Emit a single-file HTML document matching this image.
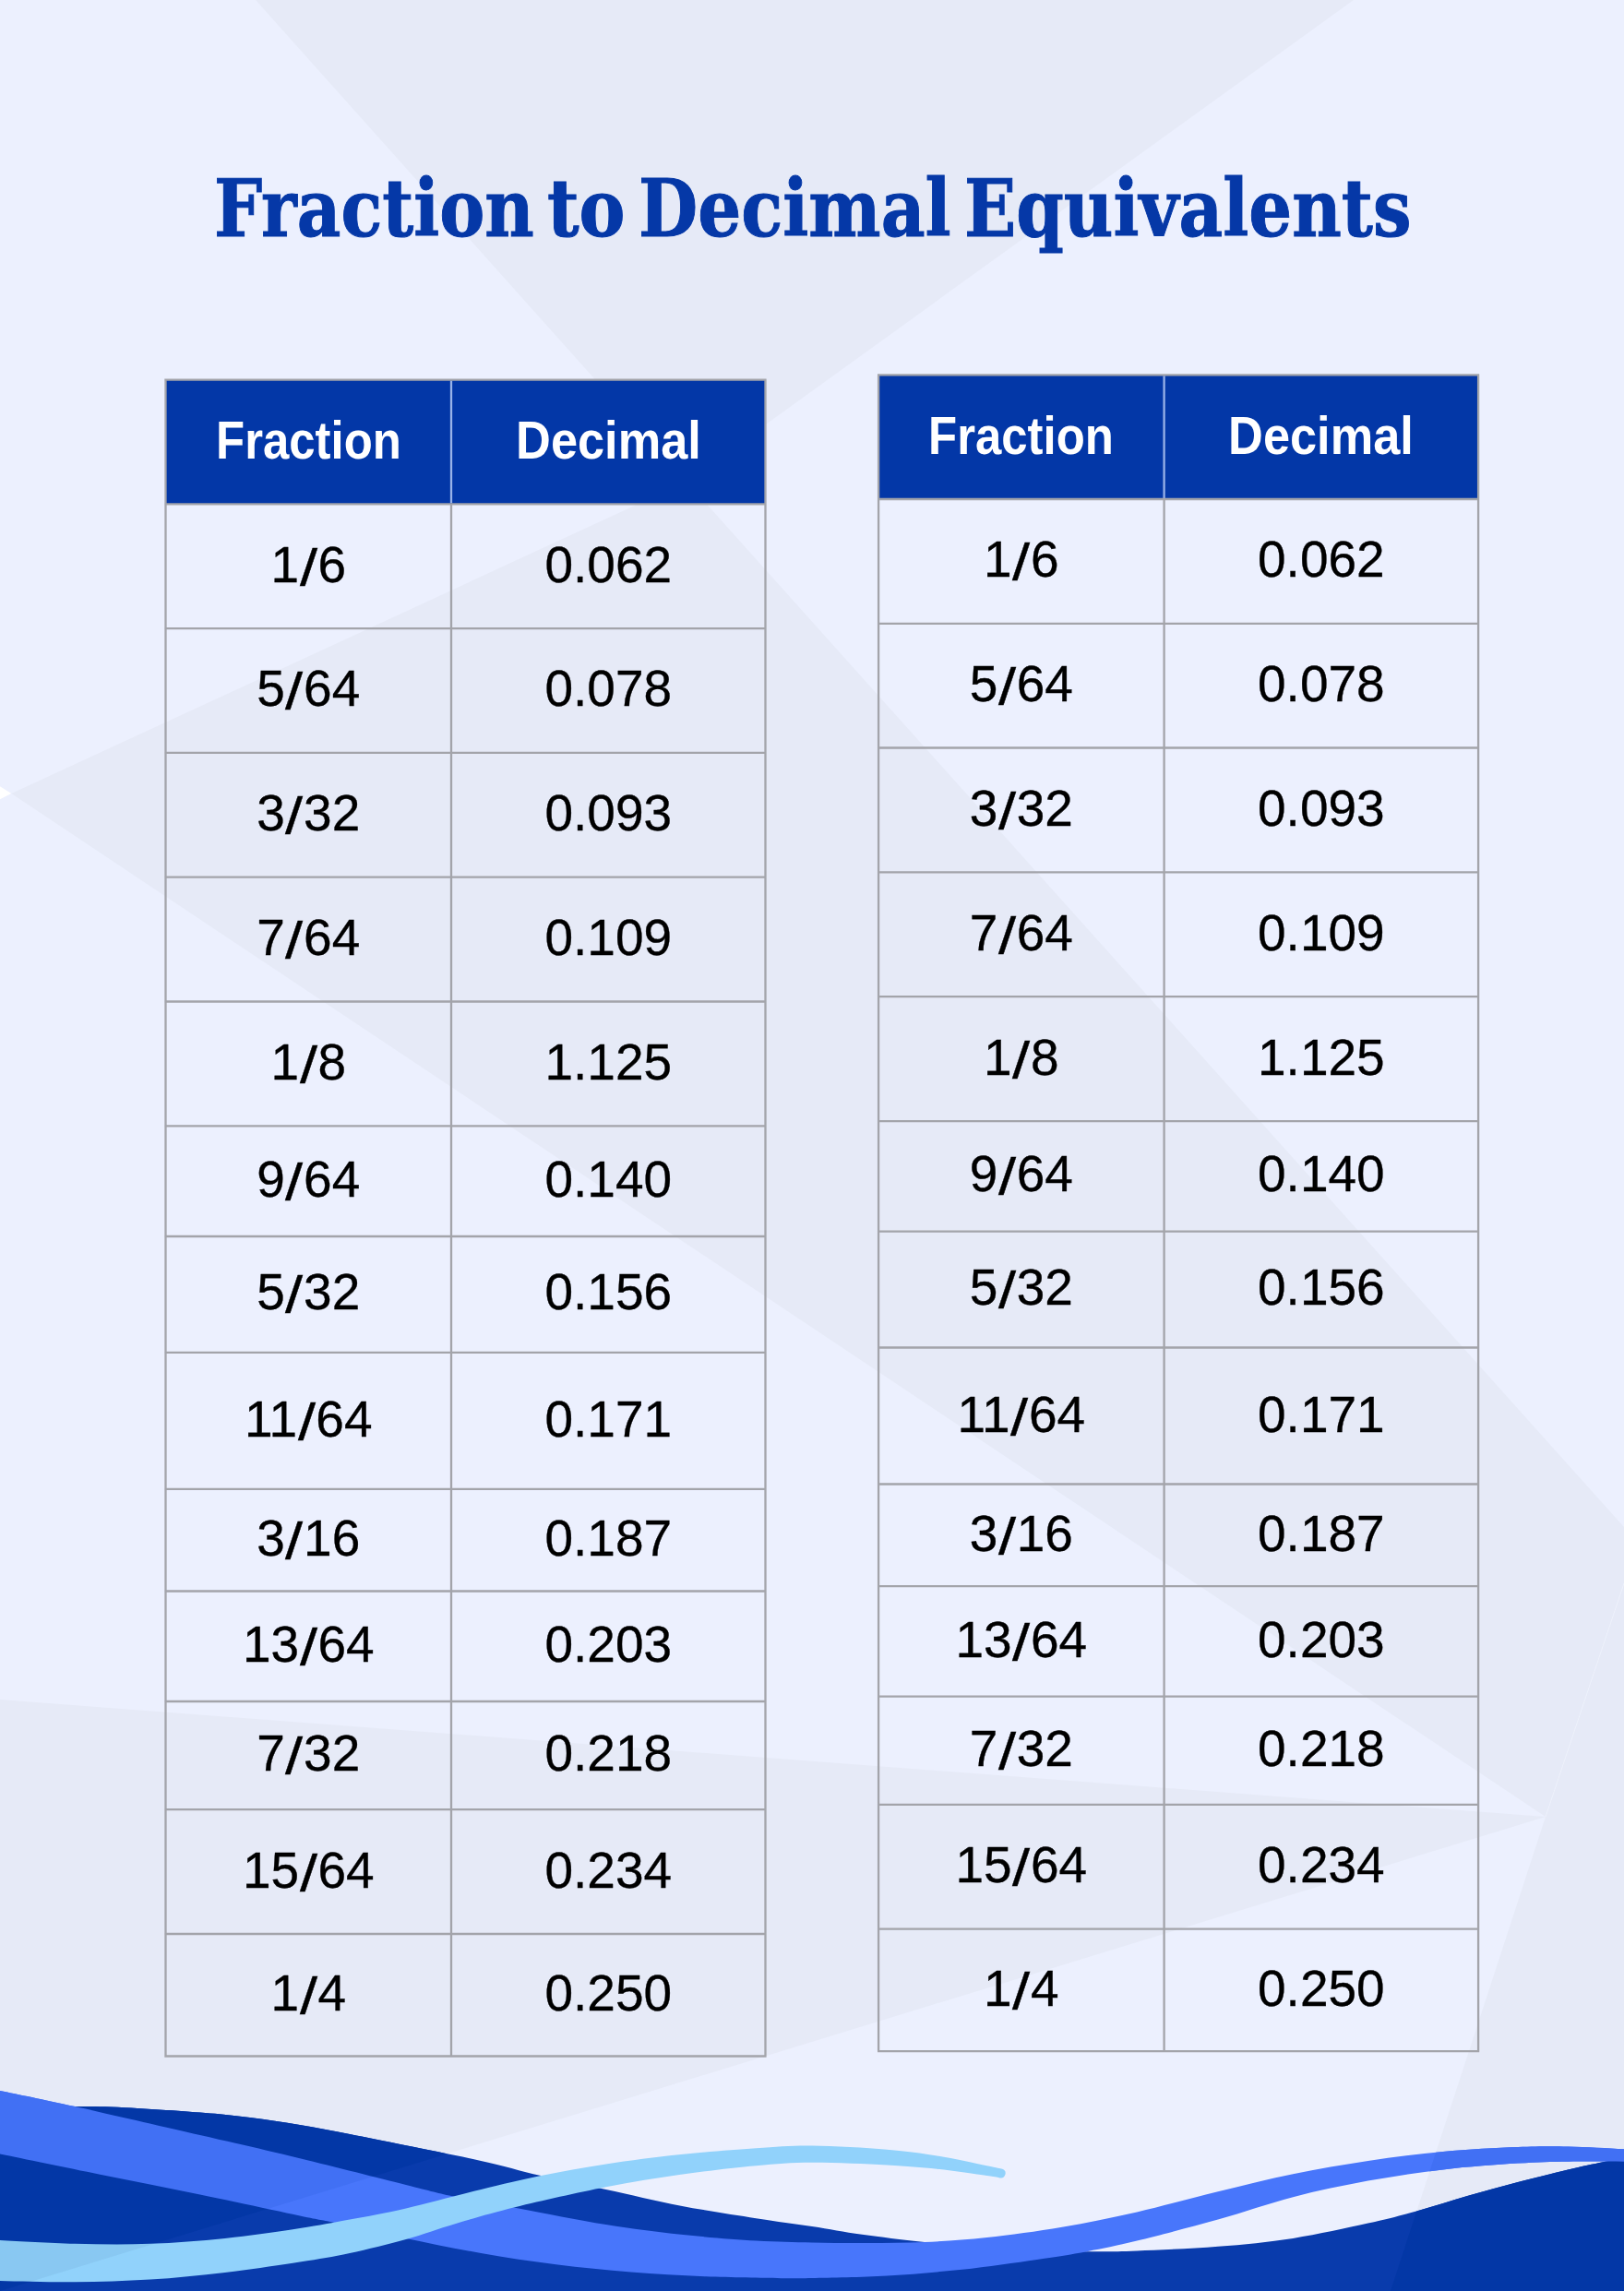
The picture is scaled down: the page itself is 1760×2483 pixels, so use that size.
<!DOCTYPE html>
<html lang="en"><head><meta charset="utf-8"><title>Fraction to Decimal Equivalents</title>
<style>
html,body{margin:0;padding:0;}
body{width:1760px;height:2483px;overflow:hidden;background:#ecf0fe;}
#page{position:relative;width:1760px;height:2483px;overflow:hidden;background:#ecf0fe;}
#bg{position:absolute;left:0;top:0;}
#title{position:absolute;left:0;top:177px;width:1760px;height:100px;margin:0;font-family:"DejaVu Serif","Liberation Serif",serif;font-weight:bold;font-size:83px;line-height:100px;color:#0538a7;white-space:nowrap;-webkit-text-stroke:1px #0538a7;}
#title span{position:absolute;top:0;display:block;transform-origin:0 78.5px;}
.tbl{position:absolute;}
.c{position:absolute;text-align:center;white-space:nowrap;box-sizing:border-box;}
.h{font-family:"Liberation Sans",sans-serif;font-weight:bold;font-size:55px;color:#fff;}
.b{font-family:"Liberation Sans",sans-serif;font-size:55px;color:#000;transform:scaleY(1.025);-webkit-text-stroke:0.35px #000;}
.b i{font-style:normal;display:inline-block;margin:0 2.5px;transform:translateY(2.5px) scaleX(1.25);}
.h span{display:inline-block;transform-origin:50% 50%;}

</style></head><body>
<div id="page">
<svg id="bg" width="1760" height="2483" viewBox="0 0 1760 2483">
<defs>
<clipPath id="cd"><polygon points="0,1842 1675,1969 0,2483"/><polygon points="1675,1969 1507,2483 1760,2483 1760,1716"/></clipPath>
<path id="w1" d="M-40.0,2286.0C-33.3,2285.7 -20.2,2284.5 0.0,2284.0C20.2,2283.5 58.7,2283.0 81.3,2283.0C103.9,2283.0 112.9,2283.1 135.5,2284.2C158.1,2285.3 194.1,2287.8 216.7,2289.6C239.3,2291.4 252.9,2292.8 271.0,2295.0C289.1,2297.2 307.0,2300.0 325.0,2303.0C343.0,2306.0 359.8,2309.3 379.0,2313.0C398.2,2316.7 416.3,2320.5 440.0,2325.3C463.7,2330.1 496.9,2336.5 521.3,2341.9C545.7,2347.3 563.7,2352.8 586.3,2358.0C608.9,2363.2 631.4,2367.6 656.7,2373.0C682.0,2378.4 710.9,2385.5 738.0,2390.7C765.1,2395.9 795.6,2400.5 819.3,2404.2C843.0,2407.9 860.9,2410.1 880.0,2413.0C899.1,2415.9 913.9,2419.0 934.2,2421.8C954.5,2424.6 976.0,2427.3 1002.0,2430.0C1028.0,2432.7 1060.7,2436.3 1090.0,2438.0C1119.3,2439.7 1154.3,2440.0 1178.0,2440.2C1201.7,2440.4 1208.5,2440.3 1232.2,2439.4C1255.9,2438.5 1291.8,2437.1 1320.0,2434.8C1348.2,2432.6 1374.2,2430.1 1401.3,2425.9C1428.4,2421.7 1460.0,2414.6 1482.6,2409.6C1505.2,2404.6 1518.7,2401.0 1536.8,2396.0C1554.9,2391.0 1573.0,2385.0 1591.0,2379.8C1609.0,2374.6 1627.0,2369.7 1645.0,2365.0C1663.0,2360.3 1683.9,2355.0 1699.3,2351.4C1714.7,2347.8 1727.1,2345.3 1737.2,2343.2C1747.3,2341.1 1749.5,2340.7 1760.0,2339.0C1770.5,2337.3 1793.3,2334.0 1800.0,2333.0V2500H-40.0Z"/>
<path id="w2" d="M-40.0,2258.0C-33.3,2259.3 -20.2,2261.8 0.0,2266.0C20.2,2270.2 45.2,2275.1 81.3,2283.1C117.4,2291.1 176.1,2304.7 216.7,2314.0C257.3,2323.3 287.8,2330.2 325.0,2339.2C362.2,2348.2 411.8,2360.9 440.0,2367.9C468.2,2374.9 473.7,2376.8 494.0,2381.0C514.3,2385.2 534.9,2388.4 562.0,2393.4C589.1,2398.4 627.4,2406.3 656.7,2411.0C686.0,2415.7 710.9,2418.9 738.0,2421.8C765.1,2424.7 795.6,2427.2 819.3,2428.6C843.0,2430.0 859.9,2430.1 880.0,2430.5C900.1,2430.9 919.7,2431.1 940.0,2431.0C960.3,2430.9 980.4,2431.0 1002.0,2430.0C1023.6,2429.0 1044.8,2427.7 1069.6,2425.0C1094.4,2422.3 1123.9,2418.3 1151.0,2413.7C1178.1,2409.1 1204.0,2403.8 1232.2,2397.4C1260.4,2391.0 1291.8,2382.1 1320.0,2375.2C1348.2,2368.3 1374.2,2361.8 1401.3,2356.2C1428.4,2350.6 1455.5,2345.9 1482.6,2341.9C1509.7,2337.9 1536.7,2334.4 1563.8,2331.9C1590.9,2329.4 1622.4,2327.9 1645.0,2327.0C1667.6,2326.1 1680.1,2326.0 1699.3,2326.4C1718.5,2326.8 1743.2,2328.3 1760.0,2329.2C1776.8,2330.1 1793.3,2331.5 1800.0,2332.0L1800.0,2343.5C1793.3,2343.4 1776.8,2342.8 1760.0,2342.7C1743.2,2342.6 1718.5,2342.4 1699.3,2342.7C1680.1,2343.0 1667.6,2343.1 1645.0,2344.6C1622.4,2346.1 1590.9,2348.2 1563.8,2351.4C1536.7,2354.6 1509.7,2358.6 1482.6,2363.6C1455.5,2368.6 1428.4,2374.2 1401.3,2381.2C1374.2,2388.2 1348.2,2397.7 1320.0,2405.6C1291.8,2413.5 1255.9,2422.8 1232.2,2428.6C1208.5,2434.4 1196.1,2436.8 1178.0,2440.2C1159.9,2443.6 1146.4,2445.7 1123.8,2448.9C1101.2,2452.2 1069.7,2456.8 1042.6,2459.7C1015.5,2462.6 988.4,2464.9 961.3,2466.5C934.2,2468.1 899.1,2468.6 880.0,2469.0C860.9,2469.4 865.6,2469.5 846.4,2469.2C827.2,2468.9 792.1,2468.4 765.0,2467.3C737.9,2466.2 710.9,2464.7 683.8,2462.5C656.7,2460.3 629.7,2457.7 602.6,2454.3C575.5,2450.9 548.4,2446.7 521.3,2442.0C494.2,2437.3 465.9,2431.3 440.0,2425.9C414.1,2420.5 384.9,2413.7 365.7,2409.6C346.5,2405.5 349.8,2406.7 325.0,2401.5C300.2,2396.3 252.8,2385.9 216.7,2378.5C180.6,2371.1 144.5,2364.1 108.4,2356.8C72.3,2349.5 24.7,2339.7 0.0,2334.6C-24.7,2329.5 -33.3,2327.8 -40.0,2326.5Z"/>
<path id="w3" d="M-40.0,2425.0C-33.3,2425.5 -20.2,2426.9 0.0,2428.0C20.2,2429.1 53.9,2431.2 81.0,2431.8C108.1,2432.4 135.5,2432.8 162.6,2431.8C189.7,2430.8 216.7,2428.7 243.8,2425.9C270.9,2423.1 302.5,2418.4 325.0,2415.0C347.5,2411.6 359.8,2409.2 379.0,2405.6C398.2,2402.0 416.3,2398.8 440.0,2393.4C463.7,2388.0 496.9,2378.9 521.3,2373.0C545.7,2367.1 563.7,2362.6 586.3,2358.0C608.9,2353.4 631.4,2349.2 656.7,2345.4C682.0,2341.6 710.9,2337.8 738.0,2335.0C765.1,2332.2 795.6,2329.9 819.3,2328.3C843.0,2326.7 856.3,2325.4 880.0,2325.6C903.7,2325.8 938.7,2327.9 961.3,2329.7C983.9,2331.5 997.5,2333.6 1015.5,2336.5C1033.5,2339.4 1057.8,2344.9 1069.6,2347.3C1081.4,2349.7 1083.5,2350.2 1086.3,2350.8A5,5 0 0 1 1083.6,2360.4C1081.3,2360.0 1080.9,2359.7 1069.6,2358.1C1058.2,2356.5 1033.5,2352.7 1015.5,2350.8C997.5,2348.9 983.9,2347.7 961.3,2346.5C938.7,2345.3 903.7,2343.7 880.0,2343.8C856.3,2343.9 843.0,2345.1 819.3,2347.3C795.6,2349.5 765.1,2353.0 738.0,2356.8C710.9,2360.6 686.5,2364.4 656.7,2370.3C626.9,2376.2 586.1,2385.4 559.0,2392.0C531.9,2398.6 513.8,2404.2 494.0,2410.0C474.2,2415.8 459.2,2421.7 440.0,2427.0C420.8,2432.3 398.2,2437.9 379.0,2442.0C359.8,2446.1 347.5,2448.1 325.0,2451.6C302.5,2455.1 270.9,2459.8 243.8,2463.0C216.7,2466.2 189.7,2468.9 162.6,2470.6C135.5,2472.3 108.1,2473.1 81.0,2473.3C53.9,2473.5 20.2,2472.6 0.0,2472.0C-20.2,2471.4 -33.3,2470.3 -40.0,2470.0Z"/>
</defs>
<g fill="#e6eaf7">
<polygon points="277,0 1467,0 744,522"/>
<polygon points="744,522 12.3,860.1 1675,1969 1760,1716 1760,1655"/>
<polygon points="0,1842 1675,1969 0,2483"/>
<polygon points="1675,1969 1507,2483 1760,2483 1760,1716"/>
</g>
<line x1="1675" y1="1969" x2="1760" y2="1716" stroke="#f2f5fe" stroke-width="1" stroke-opacity="0.6"/>
<polygon points="0,852.3 12.3,860.1 0,866.3" fill="#ffffff"/>
<use href="#w1" fill="#093bac"/>
<use href="#w2" fill="#4876fb"/>
<use href="#w3" fill="#91d2fb"/>
<g clip-path="url(#cd)" opacity="0.999">
<use href="#w1" fill="#0337a6"/>
<use href="#w2" fill="#4170f4"/>
<use href="#w3" fill="#89c8f2"/>
</g>
<rect x="179.5" y="411.6" width="650" height="134.7" fill="#0337a7"/>
<line x1="489" y1="412.6" x2="489" y2="545.3" stroke="#98b2e8" stroke-width="2.3"/>
<path d="M178.3,411.6H830.6M178.3,546.3H830.6M178.3,681.1H830.6M178.3,815.8H830.6M178.3,950.6H830.6M178.3,1085.5H830.6M178.3,1220.4H830.6M178.3,1340H830.6M178.3,1465.8H830.6M178.3,1613.8H830.6M178.3,1724.5H830.6M178.3,1844H830.6M178.3,1961.2H830.6M178.3,2096H830.6M178.3,2228.5H830.6M179.5,411.6V2228.5M829.5,411.6V2228.5M489,546.3V2228.5" fill="none" stroke="#a3a4aa" stroke-width="2.3"/>
<rect x="952.1" y="406.3" width="650" height="134.7" fill="#0337a7"/>
<line x1="1261.6" y1="407.3" x2="1261.6" y2="540" stroke="#98b2e8" stroke-width="2.3"/>
<path d="M951,406.3H1603.2M951,541H1603.2M951,675.8H1603.2M951,810.5H1603.2M951,945.3H1603.2M951,1080.2H1603.2M951,1215.1H1603.2M951,1334.7H1603.2M951,1460.5H1603.2M951,1608.5H1603.2M951,1719.2H1603.2M951,1838.7H1603.2M951,1955.9H1603.2M951,2090.7H1603.2M951,2223.2H1603.2M952.1,406.3V2223.2M1602.1,406.3V2223.2M1261.6,541V2223.2" fill="none" stroke="#a3a4aa" stroke-width="2.3"/>
</svg>

<h1 id="title"><span style="left:232.3px;transform:scale(0.887,1.035)">Fraction</span> <span style="left:593.3px;transform:scale(0.902,1.035)">to</span> <span style="left:691.7px;transform:scale(0.8913,1.035)">Decimal</span> <span style="left:1045.2px;transform:scale(0.889,1.035)">Equivalents</span></h1>
<div class="tbl t1" style="left:179.5px;top:411.6px;width:650px;height:1816.9px">
<div class="c h" style="left:0;top:-1.5px;width:309.5px;height:134.7px;line-height:134.7px"><span style="transform:scale(0.926,1.035)">Fraction</span></div>
<div class="c h" style="left:309.5px;top:-1.5px;width:340.5px;height:134.7px;line-height:134.7px"><span style="transform:scale(0.952,1.035)">Decimal</span></div>
<div class="c b" style="left:0;top:133.1px;width:309.5px;height:134.8px;line-height:134.8px">1<i>/</i>6</div>
<div class="c b" style="left:309.5px;top:133.1px;width:340.5px;height:134.8px;line-height:134.8px">0.062</div>
<div class="c b" style="left:0;top:267.9px;width:309.5px;height:134.7px;line-height:134.7px">5<i>/</i>64</div>
<div class="c b" style="left:309.5px;top:267.9px;width:340.5px;height:134.7px;line-height:134.7px">0.078</div>
<div class="c b" style="left:0;top:402.6px;width:309.5px;height:134.8px;line-height:134.8px">3<i>/</i>32</div>
<div class="c b" style="left:309.5px;top:402.6px;width:340.5px;height:134.8px;line-height:134.8px">0.093</div>
<div class="c b" style="left:0;top:537.4px;width:309.5px;height:134.9px;line-height:134.9px">7<i>/</i>64</div>
<div class="c b" style="left:309.5px;top:537.4px;width:340.5px;height:134.9px;line-height:134.9px">0.109</div>
<div class="c b" style="left:0;top:672.3px;width:309.5px;height:134.9px;line-height:134.9px">1<i>/</i>8</div>
<div class="c b" style="left:309.5px;top:672.3px;width:340.5px;height:134.9px;line-height:134.9px">1.125</div>
<div class="c b" style="left:0;top:807.2px;width:309.5px;height:119.6px;line-height:119.6px">9<i>/</i>64</div>
<div class="c b" style="left:309.5px;top:807.2px;width:340.5px;height:119.6px;line-height:119.6px">0.140</div>
<div class="c b" style="left:0;top:926.8px;width:309.5px;height:125.8px;line-height:125.8px">5<i>/</i>32</div>
<div class="c b" style="left:309.5px;top:926.8px;width:340.5px;height:125.8px;line-height:125.8px">0.156</div>
<div class="c b" style="left:0;top:1052.6px;width:309.5px;height:148px;line-height:148px">11<i>/</i>64</div>
<div class="c b" style="left:309.5px;top:1052.6px;width:340.5px;height:148px;line-height:148px">0.171</div>
<div class="c b" style="left:0;top:1200.6px;width:309.5px;height:110.7px;line-height:110.7px">3<i>/</i>16</div>
<div class="c b" style="left:309.5px;top:1200.6px;width:340.5px;height:110.7px;line-height:110.7px">0.187</div>
<div class="c b" style="left:0;top:1311.3px;width:309.5px;height:119.5px;line-height:119.5px">13<i>/</i>64</div>
<div class="c b" style="left:309.5px;top:1311.3px;width:340.5px;height:119.5px;line-height:119.5px">0.203</div>
<div class="c b" style="left:0;top:1430.8px;width:309.5px;height:117.2px;line-height:117.2px">7<i>/</i>32</div>
<div class="c b" style="left:309.5px;top:1430.8px;width:340.5px;height:117.2px;line-height:117.2px">0.218</div>
<div class="c b" style="left:0;top:1548px;width:309.5px;height:134.8px;line-height:134.8px">15<i>/</i>64</div>
<div class="c b" style="left:309.5px;top:1548px;width:340.5px;height:134.8px;line-height:134.8px">0.234</div>
<div class="c b" style="left:0;top:1682.8px;width:309.5px;height:132.5px;line-height:132.5px">1<i>/</i>4</div>
<div class="c b" style="left:309.5px;top:1682.8px;width:340.5px;height:132.5px;line-height:132.5px">0.250</div>
</div>
<div class="tbl t2" style="left:952.1px;top:406.3px;width:650px;height:1816.9px">
<div class="c h" style="left:0;top:-1.5px;width:309.5px;height:134.7px;line-height:134.7px"><span style="transform:scale(0.926,1.035)">Fraction</span></div>
<div class="c h" style="left:309.5px;top:-1.5px;width:340.5px;height:134.7px;line-height:134.7px"><span style="transform:scale(0.952,1.035)">Decimal</span></div>
<div class="c b" style="left:0;top:133.1px;width:309.5px;height:134.8px;line-height:134.8px">1<i>/</i>6</div>
<div class="c b" style="left:309.5px;top:133.1px;width:340.5px;height:134.8px;line-height:134.8px">0.062</div>
<div class="c b" style="left:0;top:267.9px;width:309.5px;height:134.7px;line-height:134.7px">5<i>/</i>64</div>
<div class="c b" style="left:309.5px;top:267.9px;width:340.5px;height:134.7px;line-height:134.7px">0.078</div>
<div class="c b" style="left:0;top:402.6px;width:309.5px;height:134.8px;line-height:134.8px">3<i>/</i>32</div>
<div class="c b" style="left:309.5px;top:402.6px;width:340.5px;height:134.8px;line-height:134.8px">0.093</div>
<div class="c b" style="left:0;top:537.4px;width:309.5px;height:134.9px;line-height:134.9px">7<i>/</i>64</div>
<div class="c b" style="left:309.5px;top:537.4px;width:340.5px;height:134.9px;line-height:134.9px">0.109</div>
<div class="c b" style="left:0;top:672.3px;width:309.5px;height:134.9px;line-height:134.9px">1<i>/</i>8</div>
<div class="c b" style="left:309.5px;top:672.3px;width:340.5px;height:134.9px;line-height:134.9px">1.125</div>
<div class="c b" style="left:0;top:807.2px;width:309.5px;height:119.6px;line-height:119.6px">9<i>/</i>64</div>
<div class="c b" style="left:309.5px;top:807.2px;width:340.5px;height:119.6px;line-height:119.6px">0.140</div>
<div class="c b" style="left:0;top:926.8px;width:309.5px;height:125.8px;line-height:125.8px">5<i>/</i>32</div>
<div class="c b" style="left:309.5px;top:926.8px;width:340.5px;height:125.8px;line-height:125.8px">0.156</div>
<div class="c b" style="left:0;top:1052.6px;width:309.5px;height:148px;line-height:148px">11<i>/</i>64</div>
<div class="c b" style="left:309.5px;top:1052.6px;width:340.5px;height:148px;line-height:148px">0.171</div>
<div class="c b" style="left:0;top:1200.6px;width:309.5px;height:110.7px;line-height:110.7px">3<i>/</i>16</div>
<div class="c b" style="left:309.5px;top:1200.6px;width:340.5px;height:110.7px;line-height:110.7px">0.187</div>
<div class="c b" style="left:0;top:1311.3px;width:309.5px;height:119.5px;line-height:119.5px">13<i>/</i>64</div>
<div class="c b" style="left:309.5px;top:1311.3px;width:340.5px;height:119.5px;line-height:119.5px">0.203</div>
<div class="c b" style="left:0;top:1430.8px;width:309.5px;height:117.2px;line-height:117.2px">7<i>/</i>32</div>
<div class="c b" style="left:309.5px;top:1430.8px;width:340.5px;height:117.2px;line-height:117.2px">0.218</div>
<div class="c b" style="left:0;top:1548px;width:309.5px;height:134.8px;line-height:134.8px">15<i>/</i>64</div>
<div class="c b" style="left:309.5px;top:1548px;width:340.5px;height:134.8px;line-height:134.8px">0.234</div>
<div class="c b" style="left:0;top:1682.8px;width:309.5px;height:132.5px;line-height:132.5px">1<i>/</i>4</div>
<div class="c b" style="left:309.5px;top:1682.8px;width:340.5px;height:132.5px;line-height:132.5px">0.250</div>
</div>
</div>
</body></html>
